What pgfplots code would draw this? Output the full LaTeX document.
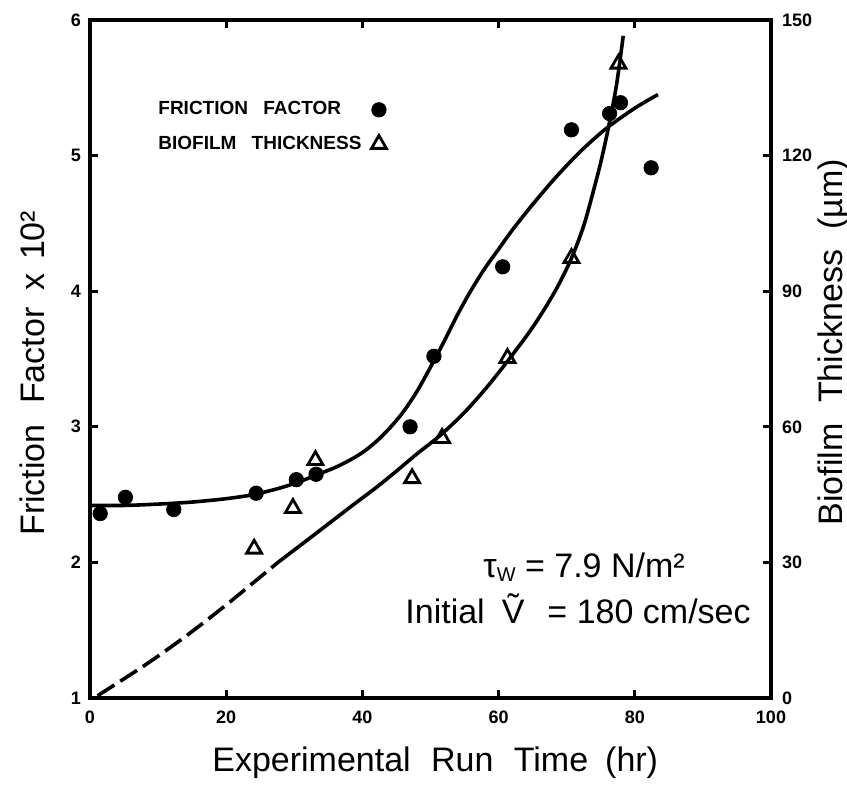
\documentclass[border=0pt]{standalone}
\usepackage{fontspec}
\setmainfont{Liberation Sans}
\usepackage{graphicx}
\usepackage{pgfplots}
\usepackage{pgfplotstable}
\pgfplotsset{compat=1.18}

\pgfplotstableread{
x y
1.5 2.36
5.2 2.48
12.3 2.39
24.4 2.51
30.3 2.61
33.2 2.65
47.0 3.00
50.5 3.52
60.6 4.18
70.7 5.19
76.3 5.31
77.9 5.39
82.4 4.91
}\ffdata

\pgfplotstableread{
x y
24.1 33.0
29.8 42.0
33.1 52.6
47.3 48.6
51.7 57.5
61.3 75.2
70.7 97.3
77.6 140.3
}\bfdata

\pgfplotstableread{
x y
0 2.42
5 2.42
10 2.43
15 2.445
20 2.47
24 2.50
28 2.55
31 2.60
34 2.66
36 2.70
38 2.75
40 2.81
42 2.89
44 2.99
46 3.11
48 3.26
50 3.44
52 3.63
54 3.83
56 4.01
58 4.17
60 4.31
62 4.45
65 4.64
68.4 4.84
72 5.03
75.8 5.20
80 5.35
83.4 5.45
}\ffcurve

\pgfplotstableread{
x y
1.1 0.5
8 7.2
14 13.6
20 20.6
27.6 30
}\bfdash

\pgfplotstableread{
x y
27.6 30
33 36.2
38.7 42.8
41.8 46.3
45 50.2
48 54
51.5 58.2
55 63.2
58.3 68.8
61.3 74.5
65 82
68.3 90
70.7 97.3
72.5 104.5
73.8 111.5
75 118.5
76.1 126
77.3 135.5
78.3 146.5
}\bfcurve

\begin{document}
\begin{tikzpicture}
\begin{axis}[
  at={(0pt,0pt)}, anchor=south west,
  width=340.5pt, height=339pt, scale only axis,
  xmin=0, xmax=100, ymin=1, ymax=6,
  xtick={0,20,...,100}, ytick={1,...,6},
  tick align=inside, xtick pos=both, ytick pos=left, xticklabel pos=bottom,
  major tick length=4pt,
  every tick/.style={line width=1.4pt, black},
  axis line style={line width=1.8pt},
  tick label style={font=\fontsize{9}{9}\selectfont\bfseries},
  /pgf/number format/assume math mode=true,
  xticklabel style={yshift=-3pt},
  yticklabel style={xshift=-1pt},
  xlabel={Experimental\hspace{0.6em}Run\hspace{0.6em}Time\hspace{0.5em}(hr)},
  ylabel={Friction\hspace{0.6em}Factor\hspace{0.5em}x\hspace{0.4em}10²},
  label style={font=\fontsize{17}{20}\selectfont},
  xlabel style={at={(axis description cs:0.507,-0.096)}, anchor=center},
  ylabel style={at={(axis description cs:-0.0852,0.479)}, anchor=center},
  legend style={at={(axis description cs:0.094,0.886)}, anchor=north west,
    draw=none, fill=none, inner sep=0pt,
    font=\fontsize{9.5}{11}\selectfont\bfseries,
    cells={anchor=west}, row sep=5pt, column sep=3pt},
  legend plot pos=right,
]
\addplot[only marks, mark=*, mark size=3.6pt, black, mark options={fill=black}] table {\ffdata};
\addlegendentry{FRICTION\hspace{0.8em}FACTOR}
\addlegendimage{only marks, mark=triangle, mark size=4.3pt, line width=1.4pt, black}
\addlegendentry{BIOFILM\hspace{0.8em}THICKNESS}
\addplot[smooth, line width=1.8pt, black] table {\ffcurve};
\node[anchor=base west, font=\fontsize{17}{20}\selectfont, inner sep=0pt] at (rel axis cs:0.577,0.178)
  {τ\raisebox{-0.25ex}{\fontsize{10}{10}\selectfont W} = 7.9 N/m²};
\node[anchor=base west, font=\fontsize{17}{20}\selectfont, inner sep=0pt] at (rel axis cs:0.4626,0.1106)
  {Initial\hspace{0.5em}Ṽ\hspace{0.4em} = 180 cm/sec};
\end{axis}
\begin{axis}[
  at={(0pt,0pt)}, anchor=south west,
  width=340.5pt, height=339pt, scale only axis,
  xmin=0, xmax=100, ymin=0, ymax=150,
  axis x line=none, axis y line*=right,
  ytick={0,30,...,150},
  tick align=inside, major tick length=4pt,
  every tick/.style={line width=1.4pt, black},
  axis line style={line width=1.8pt},
  tick label style={font=\fontsize{9}{9}\selectfont\bfseries},
  /pgf/number format/assume math mode=true,
  yticklabel style={xshift=2pt},
  ylabel={Biofilm\hspace{0.6em}Thickness\hspace{0.6em}(µm)},
  label style={font=\fontsize{17}{20}\selectfont},
  ylabel style={at={(axis description cs:1.0925,0.525)}, anchor=center},
]
\addplot[only marks, mark=triangle, mark size=4.3pt, line width=1.4pt, black] table {\bfdata};
\addplot[smooth, line width=1.8pt, black, dash pattern=on 10pt off 3.5pt] table {\bfdash};
\addplot[smooth, line width=1.8pt, black] table {\bfcurve};
\end{axis}
\pgfresetboundingbox
\useasboundingbox (-45pt,-43pt) rectangle (378.5pt,349pt);
\end{tikzpicture}
\end{document}
